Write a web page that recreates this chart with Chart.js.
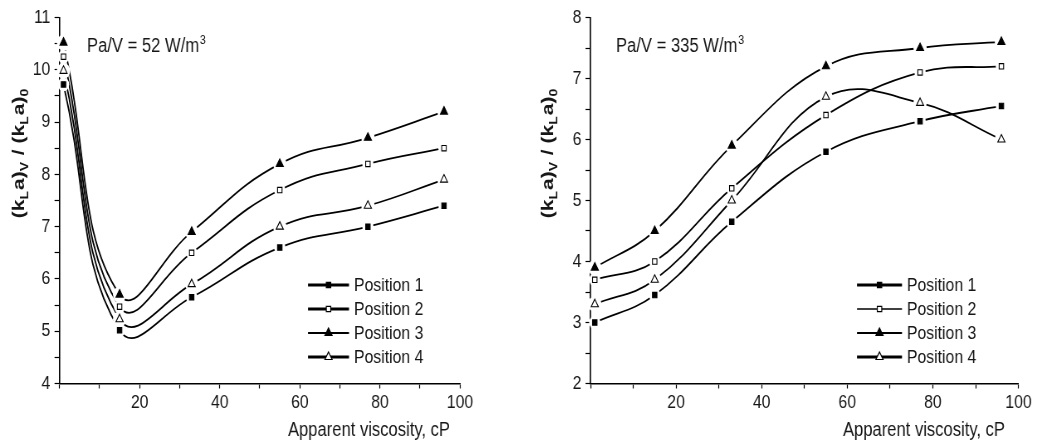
<!DOCTYPE html>
<html>
<head>
<meta charset="utf-8">
<script src="https://cdn.jsdelivr.net/npm/chart.js@4.4.1/dist/chart.umd.min.js"></script>
<style>
  html, body { margin: 0; padding: 0; background: #fff; }
  body { position: relative; width: 1037px; height: 445px; overflow: hidden; }
  canvas { position: absolute; top: 0; transform-origin: 0 0; }
</style>
</head>
<body>
<canvas id="lowPower" width="602" height="445"></canvas>
<canvas id="highPower" width="647" height="445"></canvas>
<script>
/* 不同功率下 kLa 比值随表观黏度变化 —— 两幅并排曲线图 */

// 横坐标：表观黏度 (cP)
const viscosity = [1, 15, 33, 55, 77, 96];
const seriesNames = ['Position 1', 'Position 2', 'Position 3', 'Position 4'];
const xTickLabels = [20, 40, 60, 80, 100];

// Pa/V = 52 W/m3
const lowPos1 = [9.72, 5.02, 5.65, 6.6, 7.0, 7.4];
const lowPos2 = [10.25, 5.47, 6.5, 7.7, 8.2, 8.5];
const lowPos3 = [10.52, 5.7, 6.9, 8.2, 8.7, 9.2];
const lowPos4 = [9.98, 5.23, 5.9, 7.0, 7.4, 7.9];
const lowYTicks = [4, 5, 6, 7, 8, 9, 10, 11];

// Pa/V = 335 W/m3
const highPos1 = [3.0, 3.45, 4.65, 5.8, 6.3, 6.55];
const highPos2 = [3.7, 4.0, 5.2, 6.4, 7.1, 7.2];
const highPos3 = [3.9, 4.5, 5.9, 7.2, 7.5, 7.6];
const highPos4 = [3.3, 3.7, 5.0, 6.7, 6.6, 6.0];
const highYTicks = [2, 3, 4, 5, 6, 7, 8];

// 整幅图横向压缩比例（字体偏窄）
const SQUEEZE = 0.83;
const FONT = "'Liberation Sans', Arial, Helvetica, sans-serif";
const INK = '#161616';

// 四个位置的标记样式
const markers = [
    { pointStyle: 'rect', fill: '#000', radius: 3.8 },
    { pointStyle: 'rect', fill: '#fff', radius: 3.8 },
    { pointStyle: 'triangle', fill: '#000', radius: 5 },
    { pointStyle: 'triangle', fill: '#fff', radius: 5 }
];

Chart.defaults.font.family = FONT;
Chart.defaults.color = INK;

// 以最终像素给出的横向位置，换算成画布内坐标
const px = v => v / SQUEEZE;

// 自定义绘制：标记留白、纵轴标题（带下标）、横轴标题、注释、图例
const decorPlugin = {
    id: 'decor',
    afterDatasetsDraw(chart, args, opts) {
        const ctx = chart.ctx;
        const metas = chart.getSortedVisibleDatasetMetas();

        // 标记周围留一圈白，让曲线在点附近断开
        ctx.save();
        ctx.fillStyle = '#fff';
        metas.forEach(meta => meta.data.forEach(pt => {
            ctx.beginPath();
            ctx.arc(pt.x, pt.y, pt.options.radius + 3, 0, Math.PI * 2);
            ctx.fill();
        }));
        ctx.restore();
        metas.forEach(meta => meta.data.forEach(pt => pt.draw(ctx)));
    },
    afterDraw(chart, args, opts) {
        const ctx = chart.ctx;
        ctx.save();
        ctx.fillStyle = INK;

        // 纵轴标题 (kLa)V / (kLa)0
        const parts = [['(k', 0], ['L', 1], ['a)', 0], ['V', 1], [' / (k', 0], ['L', 1], ['a)', 0], ['0', 1]];
        const mainFont = 'bold 21px ' + FONT;
        const subFont = 'bold 14px ' + FONT;
        let total = 0;
        parts.forEach(([t, sub]) => {
            ctx.font = sub ? subFont : mainFont;
            total += ctx.measureText(t).width + (sub ? 1 : 0);
        });
        ctx.translate(opts.yTitleX, opts.yTitleY);
        ctx.rotate(-Math.PI / 2);
        ctx.textBaseline = 'alphabetic';
        let cur = -total / 2;
        parts.forEach(([t, sub]) => {
            ctx.font = sub ? subFont : mainFont;
            ctx.fillText(t, cur, sub ? 12 : 7);
            cur += ctx.measureText(t).width + (sub ? 1 : 0);
        });
        ctx.setTransform(1, 0, 0, 1, 0, 0);

        // 横轴标题，右对齐
        ctx.font = '20px ' + FONT;
        ctx.textAlign = 'right';
        ctx.fillText('Apparent viscosity, cP', opts.xTitleRight, 436);

        // 功率注释
        ctx.textAlign = 'left';
        ctx.font = '20px ' + FONT;
        ctx.fillText(opts.note, opts.noteX, 52);
        const w = ctx.measureText(opts.note).width;
        ctx.font = '13px ' + FONT;
        ctx.fillText('3', opts.noteX + w + 1, 44);

        // 图例：线段 + 中间标记 + 文字
        const rows = [285, 309, 333, 357];
        chart.data.datasets.forEach((ds, i) => {
            const y = rows[i];
            ctx.strokeStyle = '#000';
            ctx.lineWidth = opts.legendWidths[i];
            ctx.beginPath();
            ctx.moveTo(opts.legendX1, y);
            ctx.lineTo(opts.legendX2, y);
            ctx.stroke();
            const m = markers[i];
            ctx.fillStyle = m.fill;
            ctx.lineWidth = 1.2;
            Chart.helpers.drawPoint(ctx, { pointStyle: m.pointStyle, radius: m.radius, rotation: 0, borderWidth: 1.2 },
                (opts.legendX1 + opts.legendX2) / 2, y);
            ctx.fillStyle = INK;
            ctx.font = '19px ' + FONT;
            ctx.textBaseline = 'middle';
            ctx.fillText(ds.label, opts.legendTextX, y + 1);
            ctx.textBaseline = 'alphabetic';
        });
        ctx.restore();
    }
};

function buildDatasets(seriesList, tension) {
    return seriesList.map((vals, i) => ({
        label: seriesNames[i],
        data: viscosity.map((x, j) => ({ x: x, y: vals[j] })),
        borderColor: '#000',
        borderWidth: 1.8,
        tension: tension,
        clip: false,
        pointStyle: markers[i].pointStyle,
        pointRadius: markers[i].radius,
        pointBackgroundColor: markers[i].fill,
        pointBorderColor: '#000',
        pointBorderWidth: 1.1
    }));
}

function buildChart(canvasId, seriesList, yTicks, geo, decor) {
    const canvas = document.getElementById(canvasId);
    canvas.style.left = geo.left + 'px';
    canvas.style.transform = 'scaleX(' + SQUEEZE + ')';

    return new Chart(canvas, {
        type: 'line',
        data: { datasets: buildDatasets(seriesList, geo.tension) },
        options: {
            responsive: false,
            animation: false,
            events: [],
            layout: { padding: { left: 0, right: geo.padRight, top: 17.5, bottom: 0 } },
            plugins: {
                legend: { display: false },
                tooltip: { enabled: false },
                decor: decor
            },
            scales: {
                x: {
                    type: 'linear',
                    min: 0,
                    max: 100,
                    afterFit: s => { s.height = 445 - 383.5; },
                    ticks: {
                        stepSize: 10,
                        autoSkip: false,
                        maxRotation: 0,
                        padding: 3,
                        color: INK,
                        font: { size: 19 },
                        callback: v => xTickLabels.includes(v) ? String(v) : ''
                    },
                    grid: { drawOnChartArea: false, tickLength: 5, tickColor: '#000', tickWidth: 1.2 },
                    border: { color: '#000', width: 1.6 }
                },
                y: {
                    min: yTicks[0],
                    max: yTicks[yTicks.length - 1],
                    afterFit: s => { s.width = geo.plotLeft; },
                    ticks: {
                        stepSize: 0.5,
                        autoSkip: false,
                        padding: 5,
                        color: INK,
                        font: { size: 19 },
                        callback: v => yTicks.includes(v) ? String(v) : ''
                    },
                    grid: { drawOnChartArea: false, tickLength: 6, tickColor: '#000', tickWidth: 1.2 },
                    border: { color: '#000', width: 1.6 }
                }
            }
        },
        plugins: [decorPlugin]
    });
}

// 左图：Pa/V = 52
buildChart('lowPower', [lowPos1, lowPos2, lowPos3, lowPos4], lowYTicks,
    { left: 0, plotLeft: px(59.5), padRight: 602 - px(460), tension: 0.45 },
    {
        yTitleX: px(18), yTitleY: 153,
        xTitleRight: px(450),
        note: 'Pa/V = 52 W/m', noteX: px(87),
        legendX1: px(308), legendX2: px(349), legendTextX: px(354),
        legendWidths: [3, 3, 2, 3]
    });

// 右图：Pa/V = 335
buildChart('highPower', [highPos1, highPos2, highPos3, highPos4], highYTicks,
    { left: 500, plotLeft: px(90.5), padRight: 647 - px(518.5), tension: 0.4 },
    {
        yTitleX: px(47), yTitleY: 153,
        xTitleRight: px(505),
        note: 'Pa/V = 335 W/m', noteX: px(116),
        legendX1: px(357), legendX2: px(402), legendTextX: px(407),
        legendWidths: [3, 1.5, 2, 3]
    });
</script>
</body>
</html>
